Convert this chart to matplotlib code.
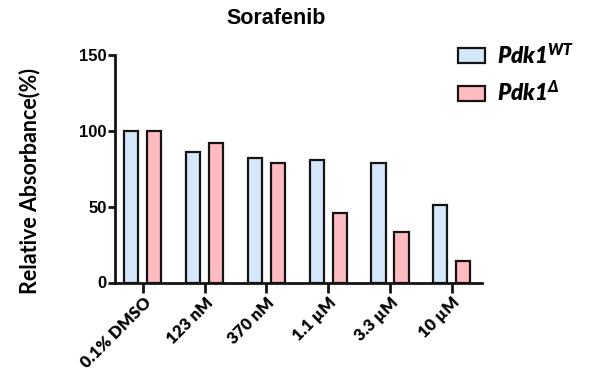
import matplotlib
matplotlib.use("Agg")
import matplotlib.pyplot as plt
import numpy as np
from matplotlib.patches import Patch

categories = ["0.1% DMSO", "123 nM", "370 nM", "1.1 µM", "3.3 µM", "10 µM"]
wt_values = [100, 86, 82, 81, 79, 51]
delta_values = [100, 92, 79, 46, 33, 14]
y_ticks = [0, 50, 100, 150]
series_labels = [r"$\mathit{Pdk}\mathit{1}^{\mathit{WT}}$", r"$\mathit{Pdk}\mathit{1}^{\mathit{Δ}}$"]
title = "Sorafenib"
ylabel = "Relative Absorbance(%)"

plt.rcParams["mathtext.fontset"] = "custom"
plt.rcParams["mathtext.it"] = "Lato:italic:heavy"
plt.rcParams["mathtext.rm"] = "Lato:italic:heavy"
plt.rcParams["mathtext.bf"] = "Lato:bold"
plt.rcParams["mathtext.fallback"] = "stixsans"

wt_color = "#D5E7FA"
delta_color = "#FFBBBF"
edge = "#141414"

fig = plt.figure(figsize=(5.92, 3.74), dpi=100)
ax = fig.add_axes([115/592, 1-282.5/374, (482-115)/592, (282.5-55)/374])

x = np.arange(len(categories))
w = 0.23
off = 0.186
ax.bar(x - off, wt_values, width=w, color=wt_color, edgecolor=edge, linewidth=1.6, zorder=3)
ax.bar(x + off, delta_values, width=w, color=delta_color, edgecolor=edge, linewidth=1.6, zorder=3)

ax.set_xlim(-0.45, 5.49)
ax.set_ylim(0, 150)
ax.set_yticks(y_ticks)
ax.set_xticks(x)
ax.set_xticklabels(categories, rotation=45, ha="right", rotation_mode="anchor",
                   fontfamily="Lato", fontweight="heavy", fontsize=12)
for lab in ax.get_yticklabels():
    lab.set_fontfamily("Liberation Sans")
    lab.set_fontweight("bold")
    lab.set_fontsize(12)

for s in ["top", "right"]:
    ax.spines[s].set_visible(False)
for s in ["left", "bottom"]:
    ax.spines[s].set_linewidth(2)
    ax.spines[s].set_color(edge)
ax.tick_params(axis="y", length=5, width=2, color=edge, pad=1)
ax.tick_params(axis="x", length=7, width=2, color=edge, pad=1.5)

fig.text(30/592, 1-181/374, ylabel, fontfamily="Lato", fontweight="bold", fontsize=15.5,
         rotation=90, ha="center", va="center")
fig.text(276.5/592, 1-19/374, title, fontfamily="Liberation Sans", fontweight="bold",
         fontsize=15.5, ha="center", va="center")

handles = [Patch(facecolor=wt_color, edgecolor=edge, linewidth=1.6),
           Patch(facecolor=delta_color, edgecolor=edge, linewidth=1.6)]
fig.legend(handles, series_labels, loc="upper left", bbox_to_anchor=(438/592, 1-23/374),
           frameon=False, fontsize=16, handlelength=1.2, handleheight=0.7,
           labelspacing=0.6, handletextpad=0.55)

fig.savefig("out.png", dpi=100)
